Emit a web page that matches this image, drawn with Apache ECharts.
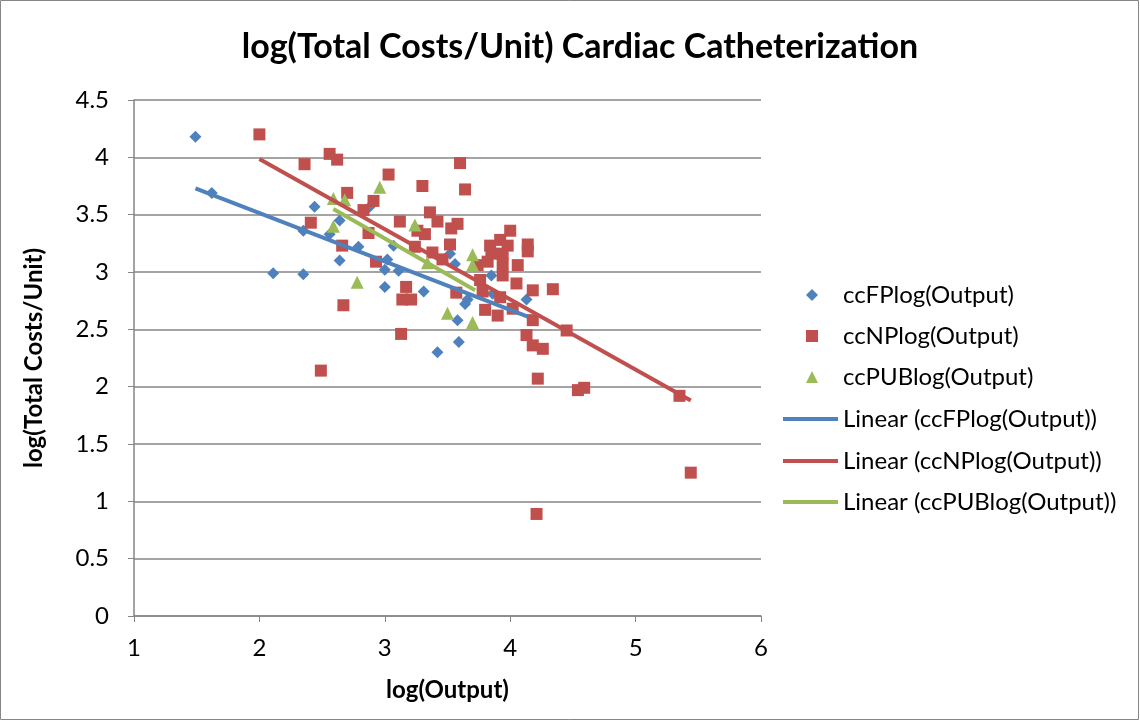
<!DOCTYPE html>
<html>
<head>
<meta charset="utf-8">
<title>log(Total Costs/Unit) Cardiac Catheterization</title>
<script src="https://cdn.jsdelivr.net/npm/echarts@6/dist/echarts.min.js"></script>
<style>
  html, body { margin: 0; padding: 0; background: #fff; }
  #chart { width: 1140px; height: 721px; }
</style>
</head>
<body>
<div id="chart"></div>
<script>
// [log(Output), log(Total Costs/Unit)]
const ccFP = [
  [1.49, 4.18], [1.62, 3.69], [2.11, 2.99], [2.35, 2.98], [2.35, 3.36],
  [2.44, 3.57], [2.56, 3.33], [2.64, 3.45], [2.64, 3.10], [2.79, 3.22],
  [2.88, 3.57], [3.00, 3.02], [3.00, 2.87], [3.02, 3.11], [3.07, 3.23],
  [3.11, 3.01], [3.31, 2.83], [3.42, 2.30], [3.59, 2.39], [3.58, 2.58],
  [3.52, 3.16], [3.56, 3.07], [3.64, 2.72], [3.66, 2.76], [3.85, 2.97],
  [3.86, 2.81], [4.13, 2.76]
];
const ccNP = [
  [2.00, 4.20], [2.36, 3.94], [2.56, 4.03], [2.62, 3.98], [3.03, 3.85],
  [2.70, 3.69], [2.91, 3.62], [2.83, 3.54], [2.41, 3.43], [2.87, 3.34],
  [2.66, 3.23], [2.93, 3.09], [2.67, 2.71], [2.49, 2.14], [3.30, 3.75],
  [3.60, 3.95], [3.64, 3.72], [3.36, 3.52], [3.12, 3.44], [3.42, 3.44],
  [3.58, 3.42], [3.53, 3.38], [3.26, 3.36], [3.32, 3.33], [3.52, 3.24],
  [3.24, 3.22], [3.38, 3.17], [3.46, 3.11], [3.74, 3.06], [3.84, 3.23],
  [3.92, 3.28], [4.00, 3.36], [3.98, 3.23], [4.14, 3.24], [4.14, 3.18],
  [3.85, 3.16], [3.94, 3.16], [3.82, 3.09], [3.94, 3.07], [4.06, 3.06],
  [3.94, 2.97], [4.05, 2.90], [3.76, 2.93], [3.78, 2.83], [3.92, 2.78],
  [3.80, 2.67], [3.90, 2.62], [4.02, 2.68], [4.18, 2.84], [4.34, 2.85],
  [4.18, 2.58], [4.13, 2.45], [4.18, 2.36], [4.26, 2.33], [4.45, 2.49],
  [3.17, 2.87], [3.14, 2.76], [3.21, 2.76], [3.13, 2.46], [3.57, 2.82],
  [4.22, 2.07], [4.54, 1.97], [4.59, 1.99], [5.35, 1.92], [5.44, 1.25],
  [4.21, 0.89]
];
const ccPUB = [
  [2.59, 3.64], [2.68, 3.63], [2.96, 3.74], [2.59, 3.40], [2.78, 2.91],
  [3.24, 3.41], [3.34, 3.08], [3.70, 3.15], [3.70, 3.06], [3.50, 2.64],
  [3.70, 2.56]
];
// linear trend lines, start and end points as drawn
const trendFP = [[1.49, 3.73], [4.14, 2.61]];
const trendNP = [[2.00, 3.985], [5.44, 1.88]];
const trendPUB = [[2.59, 3.55], [3.72, 2.84]];

const xTicks = [1, 2, 3, 4, 5, 6];
const yTicks = [0, 0.5, 1, 1.5, 2, 2.5, 3, 3.5, 4, 4.5];

const BLUE = '#4F81BD', RED = '#C0504D', GREEN = '#9BBB59';
const FONT = 'Lato';
const FS = 24;
const diamond = 'path://M0,-1L1,0L0,1L-1,0Z';

const scatterNames = ['ccFPlog(Output)', 'ccNPlog(Output)', 'ccPUBlog(Output)'];
const lineNames = ['Linear (ccFPlog(Output))', 'Linear (ccNPlog(Output))', 'Linear (ccPUBlog(Output))'];
const legendMid = [295, 336, 377, 419, 461, 502];

const legends = [];
scatterNames.forEach((n, i) => {
  legends.push({
    data: [n], left: 806, top: legendMid[i] - 12, padding: 0,
    itemWidth: 12, itemHeight: 12, itemGap: 0, selectedMode: false,
    formatter: name => '{s|}' + name,
    textStyle: { fontFamily: FONT, fontSize: FS, color: '#000', rich: { s: { width: 20 } } }
  });
});
lineNames.forEach((n, i) => {
  legends.push({
    data: [{ name: n, icon: 'rect' }], left: 783, top: legendMid[i + 3] - 12, padding: 0,
    itemWidth: 55, itemHeight: 4, itemGap: 0, selectedMode: false,
    textStyle: { fontFamily: FONT, fontSize: FS, color: '#000' }
  });
});

const chart = echarts.init(document.getElementById('chart'));
chart.setOption({
  animation: false,
  textStyle: { fontFamily: FONT },
  title: {
    text: 'log(Total Costs/Unit) Cardiac Catheterization',
    left: 575, top: 25, textAlign: 'center',
    textStyle: { fontFamily: FONT, fontSize: 34, fontWeight: 'bold', color: '#000' }
  },
  legend: legends,
  grid: { left: 134, right: 379, top: 100, bottom: 105 },
  xAxis: {
    type: 'value', min: xTicks[0], max: xTicks[xTicks.length - 1], interval: 1,
    name: 'log(Output)', nameLocation: 'middle', nameGap: 62,
    nameTextStyle: { fontFamily: FONT, fontSize: FS, fontWeight: 'bold', color: '#000' },
    axisLine: { show: true, lineStyle: { color: '#868686', width: 1.5 } },
    axisTick: { show: true, length: 6, lineStyle: { color: '#868686' } },
    axisLabel: { fontFamily: FONT, fontSize: FS, color: '#000', margin: 20 },
    splitLine: { show: false }
  },
  yAxis: {
    type: 'value', min: yTicks[0], max: yTicks[yTicks.length - 1], interval: 0.5,
    name: 'log(Total Costs/Unit)', nameLocation: 'middle', nameGap: 88, nameRotate: 90,
    nameTextStyle: { fontFamily: FONT, fontSize: FS, fontWeight: 'bold', color: '#000' },
    axisLine: { show: true, lineStyle: { color: '#868686', width: 1.5 } },
    axisTick: { show: true, length: 6, lineStyle: { color: '#868686' } },
    axisLabel: { fontFamily: FONT, fontSize: FS, color: '#000', margin: 25 },
    splitLine: { show: true, lineStyle: { color: '#868686', width: 1.5 } }
  },
  graphic: [{
    type: 'rect', shape: { x: 0.5, y: 0.5, width: 1138, height: 719 },
    style: { fill: 'none', stroke: '#868686', lineWidth: 1 }, silent: true
  }],
  series: [
    { name: scatterNames[0], type: 'scatter', data: ccFP, symbol: diamond, symbolSize: 12,
      itemStyle: { color: BLUE, opacity: 1 }, z: 3 },
    { name: scatterNames[1], type: 'scatter', data: ccNP, symbol: 'rect', symbolSize: 12,
      itemStyle: { color: RED, opacity: 1 }, z: 3 },
    { name: scatterNames[2], type: 'scatter', data: ccPUB, symbol: 'triangle', symbolSize: 13,
      itemStyle: { color: GREEN, opacity: 1 }, z: 3 },
    { name: lineNames[0], type: 'line', data: trendFP, showSymbol: false, symbol: 'none',
      lineStyle: { color: BLUE, width: 4 }, itemStyle: { color: BLUE }, z: 4 },
    { name: lineNames[1], type: 'line', data: trendNP, showSymbol: false, symbol: 'none',
      lineStyle: { color: RED, width: 4 }, itemStyle: { color: RED }, z: 4 },
    { name: lineNames[2], type: 'line', data: trendPUB, showSymbol: false, symbol: 'none',
      lineStyle: { color: GREEN, width: 4 }, itemStyle: { color: GREEN }, z: 4 }
  ]
});
</script>
</body>
</html>
